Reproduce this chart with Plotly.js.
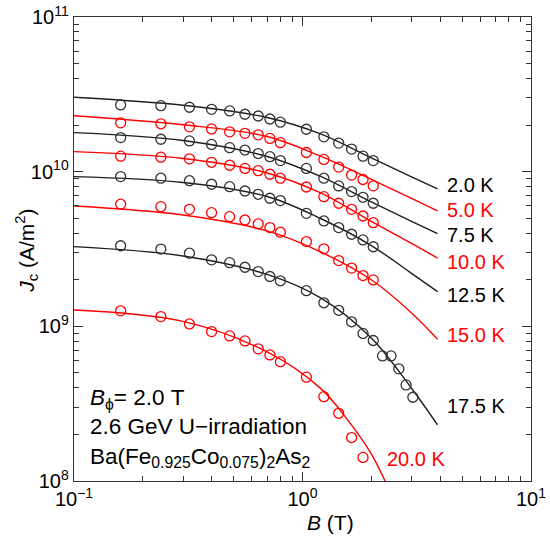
<!DOCTYPE html>
<html>
<head>
<meta charset="utf-8">
<script src="https://cdn.plot.ly/plotly-3.0.1.min.js"></script>
<style>html,body{margin:0;padding:0;background:#fff;}#chart{width:550px;height:540px;}</style>
</head>
<body>
<div id="chart"></div>
<script>
// ---- measured data (B in T, Jc in A/m^2) ----
const B_PTS = [0.16,0.24,0.32,0.40,0.48,0.56,0.64,0.72,0.80,1.04,1.24,1.44,1.64,1.84,2.04];
const B_PTS_175 = [0.16,0.24,0.32,0.40,0.48,0.56,0.64,0.72,0.80,1.04,1.24,1.44,1.64,1.84,2.04,2.24,2.44,2.64,2.84,3.04];
const B_PTS_20 = [0.16,0.24,0.32,0.40,0.48,0.56,0.64,0.72,0.80,1.04,1.24,1.44,1.64,1.84];

const jc_2K   = [2.70e10,2.67e10,2.61e10,2.53e10,2.47e10,2.35e10,2.29e10,2.19e10,2.09e10,1.88e10,1.68e10,1.53e10,1.40e10,1.26e10,1.18e10];
const jc_5K   = [2.07e10,2.04e10,1.95e10,1.89e10,1.81e10,1.77e10,1.73e10,1.64e10,1.54e10,1.33e10,1.20e10,1.07e10,9.5e9,8.9e9,8.1e9];
const jc_7_5K = [1.66e10,1.62e10,1.58e10,1.50e10,1.43e10,1.38e10,1.31e10,1.25e10,1.18e10,1.05e10,9.07e9,8.09e9,7.43e9,6.83e9,6.25e9];
const jc_10K  = [1.26e10,1.24e10,1.21e10,1.15e10,1.10e10,1.05e10,1.015e10,9.62e9,9.07e9,7.96e9,6.89e9,6.25e9,5.71e9,5.17e9,4.68e9];
const jc_12_5K= [9.29e9,9.07e9,8.74e9,8.29e9,8.0e9,7.50e9,7.14e9,6.73e9,6.50e9,5.38e9,4.80e9,4.35e9,3.94e9,3.62e9,3.27e9];
const jc_15K  = [6.16e9,5.94e9,5.71e9,5.43e9,5.12e9,4.87e9,4.59e9,4.35e9,4.06e9,3.53e9,3.17e9,2.66e9,2.38e9,2.13e9,1.995e9];
const jc_17_5K= [3.32e9,3.16e9,2.97e9,2.69e9,2.58e9,2.41e9,2.26e9,2.10e9,1.97e9,1.70e9,1.42e9,1.27e9,1.07e9,9.0e8,8.1e8,6.44e8,6.44e8,5.31e8,4.18e8,3.48e8];
const jc_20K  = [1.26e9,1.156e9,1.036e9,9.25e8,8.67e8,8.05e8,7.15e8,6.53e8,5.91e8,4.69e8,3.51e8,2.74e8,1.91e8,1.42e8];

// ---- fitted curves ----
const B_FIT = [0.1,0.3,0.7,1.2,2.0,3.0,3.9];
const B_FIT_20 = [0.1,0.3,0.7,1.2,1.6,2.0,2.3,2.5];
const fit_2K   = [3.03e10,2.69e10,2.24e10,1.753e10,1.226e10,9.24e9,7.73e9];
const fit_5K   = [2.30e10,2.01e10,1.689e10,1.259e10,8.91e9,6.71e9,5.57e9];
const fit_7_5K = [1.787e10,1.591e10,1.254e10,9.31e9,6.37e9,4.77e9,3.97e9];
const fit_10K  = [1.347e10,1.217e10,9.81e9,7.28e9,4.77e9,3.44e9,2.76e9];
const fit_12_5K= [9.29e9,8.51e9,6.91e9,4.98e9,3.33e9,2.20e9,1.676e9];
const fit_15K  = [6.00e9,5.25e9,4.14e9,3.03e9,2.00e9,1.221e9,8.25e8];
const fit_17_5K= [3.275e9,2.85e9,2.165e9,1.526e9,8.41e8,3.98e8,2.305e8];
const fit_20K  = [1.276e9,1.076e9,6.83e8,3.97e8,2.41e8,1.497e8,1.0e8,7.89e7];

const TEMP_LABELS = ['2.0 K','5.0 K','7.5 K','10.0 K','12.5 K','15.0 K','17.5 K','20.0 K'];

// ---- axis ticks ----
const X_TICKS = [0.1, 1, 10];
const X_TICKTEXT = ['10<sup>\u22121</sup>','10<sup>0</sup>','10<sup>1</sup>'];
const Y_TICKS = [1e8, 1e9, 1e10, 1e11];
const Y_TICKTEXT = ['10<sup>8</sup>','10<sup>9</sup>','10<sup>10</sup>','10<sup>11</sup>'];

function minorTicks(lo, hi) {
  const out = [];
  for (let e = lo; e < hi; e++) for (let m = 2; m <= 9; m++) out.push(m * Math.pow(10, e));
  return out;
}

const BLACK = '#1e1e1e';
const RED = '#ff0000';

const series = [
  {pB: B_PTS, pJ: jc_2K, fB: B_FIT, fJ: fit_2K, c: BLACK},
  {pB: B_PTS, pJ: jc_5K, fB: B_FIT, fJ: fit_5K, c: RED},
  {pB: B_PTS, pJ: jc_7_5K, fB: B_FIT, fJ: fit_7_5K, c: BLACK},
  {pB: B_PTS, pJ: jc_10K, fB: B_FIT, fJ: fit_10K, c: RED},
  {pB: B_PTS, pJ: jc_12_5K, fB: B_FIT, fJ: fit_12_5K, c: BLACK},
  {pB: B_PTS, pJ: jc_15K, fB: B_FIT, fJ: fit_15K, c: RED},
  {pB: B_PTS_175, pJ: jc_17_5K, fB: B_FIT, fJ: fit_17_5K, c: BLACK},
  {pB: B_PTS_20, pJ: jc_20K, fB: B_FIT_20, fJ: fit_20K, c: RED}
];

const traces = [];
series.forEach((s, i) => {
  traces.push({x: s.fB, y: s.fJ, type: 'scatter', mode: 'lines', name: TEMP_LABELS[i] + ' fit',
    line: {color: s.c, width: 1.4, shape: 'spline', smoothing: 1}, hoverinfo: 'skip'});
  traces.push({x: s.pB, y: s.pJ, type: 'scatter', mode: 'markers', name: TEMP_LABELS[i],
    marker: {symbol: 'circle-open', size: 10, color: s.c === BLACK ? '#333' : RED, line: {width: 1.3}}});
});

// label positions (paper coords)
const labelPos = [[0.812,0.638],[0.812,0.585],[0.812,0.530],[0.812,0.472],[0.812,0.400],[0.812,0.314],[0.812,0.161],[0.681,0.047]];
const FONT = 'Liberation Sans, Arial, sans-serif';
const annotations = TEMP_LABELS.map((t, i) => ({
  text: t, xref: 'paper', yref: 'paper', x: labelPos[i][0], y: labelPos[i][1],
  xanchor: 'left', yanchor: 'middle', showarrow: false,
  font: {family: FONT, size: 20, color: series[i].c === BLACK ? '#000' : RED}
}));
annotations.push({
  text: '<i>B</i><sub>\u03d5</sub>= 2.0 T<br>2.6 GeV U\u2212irradiation<br>Ba(Fe<sub>0.925</sub>Co<sub>0.075</sub>)<sub>2</sub>As<sub>2</sub>',
  xref: 'paper', yref: 'paper', x: 0.03, y: 0.114, xanchor: 'left', yanchor: 'middle', align: 'left',
  showarrow: false, font: {family: FONT, size: 22.5, color: '#000'}
});
annotations.push({
  text: '<i>B</i> (T)', xref: 'paper', yref: 'paper', x: 0.562, y: -0.0905,
  xanchor: 'center', yanchor: 'middle', showarrow: false, font: {family: FONT, size: 21, color: '#000'}
});
annotations.push({
  text: '<i>J</i><sub>c</sub> (A/m<sup>2</sup>)', xref: 'paper', yref: 'paper', x: -0.103, y: 0.496,
  xanchor: 'center', yanchor: 'middle', textangle: -90, showarrow: false, font: {family: FONT, size: 21, color: '#000'}
});

const axisCommon = {
  type: 'log', tickmode: 'array', ticks: 'inside', ticklen: 9, tickwidth: 1, tickcolor: '#333',
  showline: true, linecolor: '#333', linewidth: 1.3, mirror: 'ticks', showgrid: false, zeroline: false,
  tickfont: {family: FONT, size: 20, color: '#000'}
};

const layout = {
  width: 550, height: 540, margin: {l: 74, r: 19, t: 17, b: 59},
  paper_bgcolor: '#fff', plot_bgcolor: '#fff', showlegend: false,
  font: {family: FONT, size: 20, color: '#000'},
  xaxis: Object.assign({}, axisCommon, {range: [-1, 1], tickvals: X_TICKS, ticktext: X_TICKTEXT,
    minor: {tickmode: 'array', tickvals: minorTicks(-1, 1), ticks: 'inside', ticklen: 5, tickcolor: '#333', showgrid: false}}),
  yaxis: Object.assign({}, axisCommon, {range: [8, 11], tickvals: Y_TICKS, ticktext: Y_TICKTEXT,
    minor: {tickmode: 'array', tickvals: minorTicks(8, 11), ticks: 'inside', ticklen: 5, tickcolor: '#333', showgrid: false}}),
  annotations: annotations
};

Plotly.newPlot('chart', traces, layout, {staticPlot: true, displayModeBar: false});
</script>
</body>
</html>
